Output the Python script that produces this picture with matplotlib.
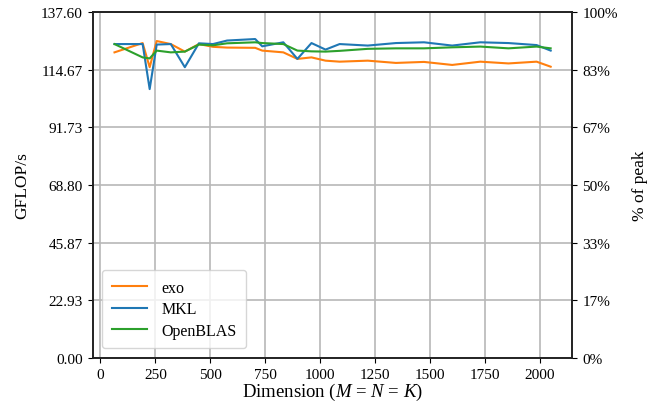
#!/usr/bin/env python3
"""GEMM throughput of exo vs MKL vs OpenBLAS, square sizes."""

import matplotlib
matplotlib.use("Agg")
import matplotlib.pyplot as plt
import numpy as np

plt.rcParams["font.family"] = ["Liberation Serif", "DejaVu Serif"]
plt.rcParams["mathtext.fontset"] = "custom"
plt.rcParams["mathtext.rm"] = "Liberation Serif"
plt.rcParams["mathtext.it"] = "Liberation Serif:italic"

PEAK = 137.6

dims = [64, 192, 224, 256, 320, 384, 448, 512, 576, 704, 736, 832, 896, 960,
        1024, 1088, 1216, 1344, 1472, 1600, 1728, 1856, 1984, 2048]

exo = [121.5, 125.2, 115.6, 126.0, 124.8, 121.8, 124.8, 123.7, 123.4, 123.3,
       122.2, 121.5, 118.9, 119.5, 118.2, 117.8, 118.2, 117.3, 117.7, 116.5,
       117.8, 117.1, 117.8, 115.8]
mkl = [124.8, 124.8, 106.9, 124.6, 124.8, 115.6, 125.1, 124.8, 126.2, 126.8,
       123.9, 125.5, 118.9, 125.2, 122.6, 124.8, 124.2, 125.2, 125.5, 124.2,
       125.5, 125.2, 124.4, 122.2]
openblas = [124.8, 119.5, 119.1, 122.2, 121.5, 121.8, 124.6, 124.3, 125.1, 125.5,
            125.2, 124.8, 122.2, 121.9, 121.8, 122.1, 122.9, 123.1, 123.1, 123.5,
            123.8, 123.1, 123.8, 123.1]

yticks = np.linspace(0, PEAK, 7)
pct_labels = ["0%", "17%", "33%", "50%", "67%", "83%", "100%"]


def main():
    fig = plt.figure(figsize=(6.55, 4.02), dpi=100)
    ax = fig.add_axes([0.1415, 0.107, 0.7325, 0.861])

    ax.plot(dims, exo, color="tab:orange", lw=1.5, label="exo")
    ax.plot(dims, mkl, color="tab:blue", lw=1.5, label="MKL")
    ax.plot(dims, openblas, color="tab:green", lw=1.5, label="OpenBLAS")

    ax.set_ylim(0, PEAK)
    ax.set_yticks(yticks)
    ax.set_yticklabels([f"{v:.2f}" for v in yticks])
    ax.set_xticks(np.arange(0, 2001, 250))
    ax.grid(True, color="#b8b8b8", lw=1.2)
    ax.set_axisbelow(True)
    ax.tick_params(labelsize=11)
    ax.set_ylabel("GFLOP/s", fontsize=12.5, labelpad=8)
    ax.set_xlabel(r"Dimension ($M$ = $N$ = $K$)", fontsize=13.5, labelpad=0)

    ax2 = ax.twinx()
    ax2.set_ylim(0, PEAK)
    ax2.set_yticks(yticks)
    ax2.set_yticklabels(pct_labels)
    ax2.tick_params(labelsize=11)
    ax2.set_ylabel("% of peak", fontsize=12.5, labelpad=10)

    for a in (ax, ax2):
        for spine in a.spines.values():
            spine.set_color("#222222")
            spine.set_linewidth(1.2)

    ax.legend(loc="lower left", fontsize=11.5, handlelength=2.2,
              borderpad=0.6, labelspacing=0.35, handletextpad=0.9,
              borderaxespad=0.6)

    fig.savefig("out.png", dpi=100, facecolor="white")
    plt.close(fig)


if __name__ == "__main__":
    main()
